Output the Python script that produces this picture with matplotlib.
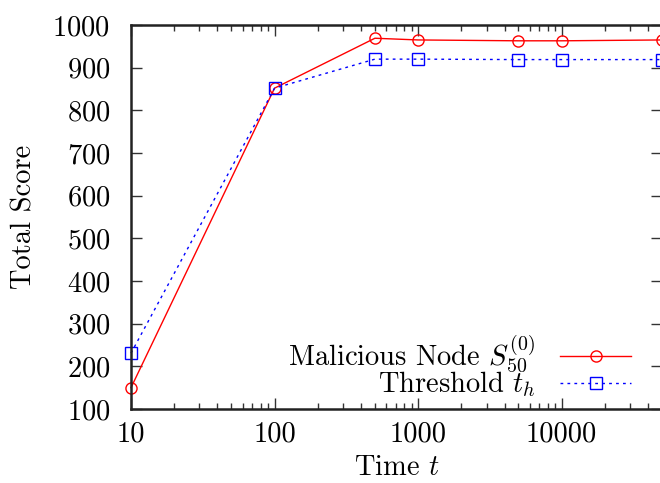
import matplotlib
matplotlib.use("Agg")
import matplotlib.pyplot as plt
from matplotlib.ticker import FixedLocator, FuncFormatter, LogLocator, NullFormatter

plt.rcParams['font.family'] = 'serif'
plt.rcParams['font.serif'] = ['cmr10']
plt.rcParams['mathtext.fontset'] = 'cm'
plt.rcParams['axes.formatter.use_mathtext'] = True

# time steps and scores
time = [10, 100, 500, 1000, 5000, 10000, 50000]
malicious = [150, 852, 969, 965, 963, 963, 965]
threshold = [231, 852, 920, 920, 919, 919, 919]

xticks = [10, 100, 1000, 10000]
yticks = [100, 200, 300, 400, 500, 600, 700, 800, 900, 1000]

fs = 20.5

fig = plt.figure(figsize=(6.6, 4.83), dpi=100)
ax = fig.add_axes([0.1985, 0.1532, 0.8045, 0.795])

ax.plot(time, malicious, color='red', lw=1.0, marker='o', ms=8, mfc='none',
        mec='red', mew=1.0, clip_on=False, label=r'Malicious Node $S_{50}^{(0)}$')
ax.plot(time, threshold, color='blue', lw=1.0, ls=(0, (2, 3)), marker='s', ms=9,
        mfc='none', mec='blue', mew=1.0, clip_on=False, label=r'Threshold $t_h$')

ax.set_xscale('log')
ax.set_xlim(10, 50000)
ax.set_ylim(100, 1000)
ax.xaxis.set_major_locator(FixedLocator(xticks))
ax.xaxis.set_major_formatter(FuncFormatter(lambda v, p: '%d' % v))
ax.xaxis.set_minor_locator(LogLocator(base=10, subs=range(2, 10), numticks=20))
ax.xaxis.set_minor_formatter(NullFormatter())
ax.yaxis.set_major_locator(FixedLocator(yticks))

ax.tick_params(which='both', direction='in', top=True, right=True, labelsize=fs,
               width=1.0, color='#333333')
ax.tick_params(which='major', length=8)
ax.tick_params(which='minor', length=4)
ax.tick_params(axis='y', pad=15)
ax.tick_params(axis='x', pad=9)
for s in ax.spines.values():
    s.set_linewidth(1.8)
    s.set_color('#222222')

ax.set_xlabel(r'Time $t$', fontsize=fs, labelpad=5)
ax.set_ylabel('Total Score', fontsize=fs, labelpad=11)

leg = ax.legend(loc='lower right', bbox_to_anchor=(0.942, 0.025), markerfirst=False,
                frameon=False, fontsize=fs, handlelength=2.5, handletextpad=0.85,
                labelspacing=-0.2, borderaxespad=0.0, borderpad=0.0)

fig.savefig('out.png', dpi=100)
